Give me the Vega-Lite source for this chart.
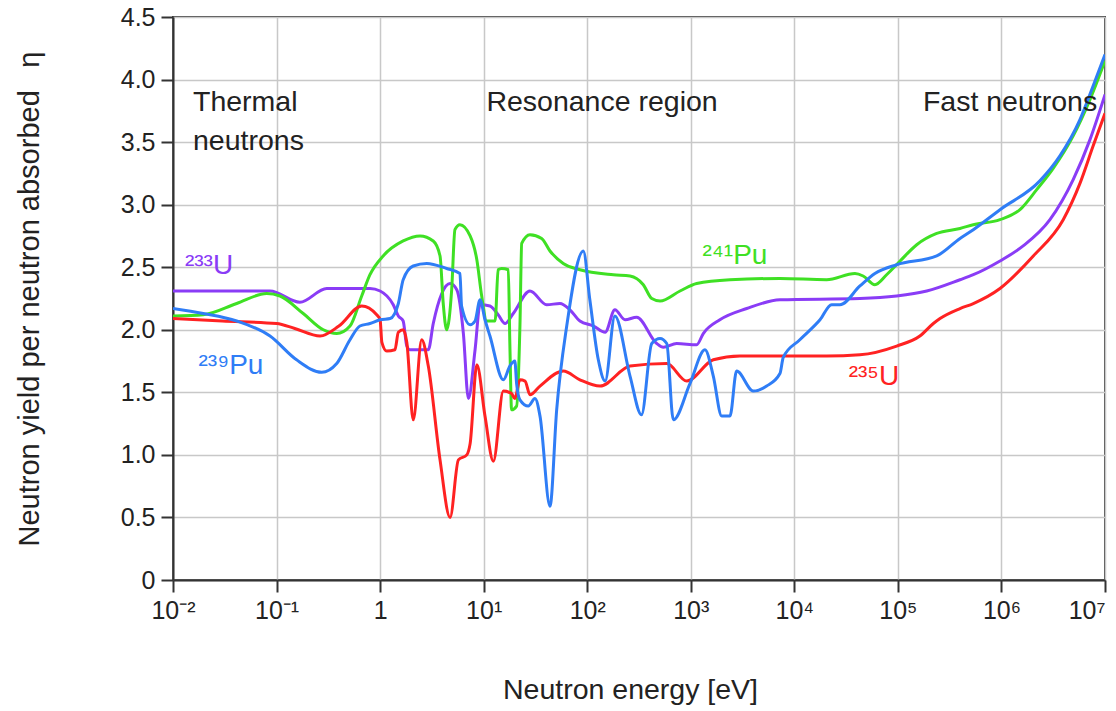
{
  "$schema": "https://vega.github.io/schema/vega-lite/v6.json",
  "width": 932,
  "height": 563,
  "autosize": {"type": "none"},
  "padding": {"left": 173, "top": 17, "right": 11, "bottom": 131},
  "background": "white",
  "config": {
    "font": "Liberation Sans",
    "view": {"stroke": "#444444", "strokeWidth": 2}
  },
  "datasets": {
    "curves": [
      {"isotope": "233U", "E": 0.01, "eta": 2.31},
      {"isotope": "233U", "E": 0.0865, "eta": 2.31},
      {"isotope": "233U", "E": 0.168, "eta": 2.22},
      {"isotope": "233U", "E": 0.305, "eta": 2.33},
      {"isotope": "233U", "E": 0.594, "eta": 2.33},
      {"isotope": "233U", "E": 0.798, "eta": 2.33},
      {"isotope": "233U", "E": 1.0, "eta": 2.31},
      {"isotope": "233U", "E": 1.34, "eta": 2.2},
      {"isotope": "233U", "E": 1.5, "eta": 2.11},
      {"isotope": "233U", "E": 1.67, "eta": 2.07},
      {"isotope": "233U", "E": 1.81, "eta": 1.87},
      {"isotope": "233U", "E": 1.94, "eta": 1.84},
      {"isotope": "233U", "E": 2.92, "eta": 1.84},
      {"isotope": "233U", "E": 3.26, "eta": 2.05},
      {"isotope": "233U", "E": 3.94, "eta": 2.29},
      {"isotope": "233U", "E": 4.74, "eta": 2.37},
      {"isotope": "233U", "E": 5.5, "eta": 2.32},
      {"isotope": "233U", "E": 6.37, "eta": 1.97},
      {"isotope": "233U", "E": 7.12, "eta": 1.45},
      {"isotope": "233U", "E": 8.26, "eta": 1.84},
      {"isotope": "233U", "E": 9.23, "eta": 2.2},
      {"isotope": "233U", "E": 11.5, "eta": 2.19},
      {"isotope": "233U", "E": 13.8, "eta": 2.12},
      {"isotope": "233U", "E": 16.1, "eta": 2.05},
      {"isotope": "233U", "E": 19.3, "eta": 2.13},
      {"isotope": "233U", "E": 28.0, "eta": 2.31},
      {"isotope": "233U", "E": 40.6, "eta": 2.2},
      {"isotope": "233U", "E": 54.5, "eta": 2.21},
      {"isotope": "233U", "E": 68.1, "eta": 2.16},
      {"isotope": "233U", "E": 85, "eta": 2.07},
      {"isotope": "233U", "E": 115, "eta": 2.03},
      {"isotope": "233U", "E": 149, "eta": 1.98},
      {"isotope": "233U", "E": 185, "eta": 2.16},
      {"isotope": "233U", "E": 232, "eta": 2.08},
      {"isotope": "233U", "E": 300, "eta": 2.1},
      {"isotope": "233U", "E": 469, "eta": 1.89},
      {"isotope": "233U", "E": 543, "eta": 1.86},
      {"isotope": "233U", "E": 731, "eta": 1.89},
      {"isotope": "233U", "E": 1140, "eta": 1.88},
      {"isotope": "233U", "E": 1320, "eta": 1.97},
      {"isotope": "233U", "E": 1910, "eta": 2.08},
      {"isotope": "233U", "E": 3470, "eta": 2.17},
      {"isotope": "233U", "E": 7260, "eta": 2.24},
      {"isotope": "233U", "E": 43000, "eta": 2.25},
      {"isotope": "233U", "E": 97300, "eta": 2.27},
      {"isotope": "233U", "E": 190000, "eta": 2.31},
      {"isotope": "233U", "E": 398000, "eta": 2.4},
      {"isotope": "233U", "E": 535000, "eta": 2.44},
      {"isotope": "233U", "E": 968000, "eta": 2.55},
      {"isotope": "233U", "E": 1620000, "eta": 2.67},
      {"isotope": "233U", "E": 2940000, "eta": 2.88},
      {"isotope": "233U", "E": 4930000, "eta": 3.2},
      {"isotope": "233U", "E": 7160000, "eta": 3.52},
      {"isotope": "233U", "E": 10000000, "eta": 3.88},

      {"isotope": "241Pu", "E": 0.01, "eta": 2.11},
      {"isotope": "241Pu", "E": 0.0196, "eta": 2.12},
      {"isotope": "241Pu", "E": 0.0412, "eta": 2.21},
      {"isotope": "241Pu", "E": 0.0804, "eta": 2.29},
      {"isotope": "241Pu", "E": 0.108, "eta": 2.27},
      {"isotope": "241Pu", "E": 0.181, "eta": 2.13},
      {"isotope": "241Pu", "E": 0.283, "eta": 2.0},
      {"isotope": "241Pu", "E": 0.381, "eta": 1.97},
      {"isotope": "241Pu", "E": 0.512, "eta": 2.03},
      {"isotope": "241Pu", "E": 0.664, "eta": 2.27},
      {"isotope": "241Pu", "E": 0.798, "eta": 2.44},
      {"isotope": "241Pu", "E": 1.07, "eta": 2.59},
      {"isotope": "241Pu", "E": 1.67, "eta": 2.71},
      {"isotope": "241Pu", "E": 2.43, "eta": 2.75},
      {"isotope": "241Pu", "E": 3.26, "eta": 2.71},
      {"isotope": "241Pu", "E": 3.79, "eta": 2.59},
      {"isotope": "241Pu", "E": 4.07, "eta": 2.21},
      {"isotope": "241Pu", "E": 4.39, "eta": 2.0},
      {"isotope": "241Pu", "E": 4.91, "eta": 2.32},
      {"isotope": "241Pu", "E": 5.28, "eta": 2.8},
      {"isotope": "241Pu", "E": 5.9, "eta": 2.84},
      {"isotope": "241Pu", "E": 7.4, "eta": 2.75},
      {"isotope": "241Pu", "E": 8.59, "eta": 2.56},
      {"isotope": "241Pu", "E": 9.57, "eta": 2.27},
      {"isotope": "241Pu", "E": 10.7, "eta": 2.07},
      {"isotope": "241Pu", "E": 12.9, "eta": 2.07},
      {"isotope": "241Pu", "E": 13.8, "eta": 2.48},
      {"isotope": "241Pu", "E": 14.9, "eta": 2.49},
      {"isotope": "241Pu", "E": 17.3, "eta": 2.48},
      {"isotope": "241Pu", "E": 17.9, "eta": 1.89},
      {"isotope": "241Pu", "E": 18.6, "eta": 1.36},
      {"isotope": "241Pu", "E": 20.8, "eta": 1.39},
      {"isotope": "241Pu", "E": 22.4, "eta": 2.03},
      {"isotope": "241Pu", "E": 23.3, "eta": 2.69},
      {"isotope": "241Pu", "E": 28.0, "eta": 2.76},
      {"isotope": "241Pu", "E": 36.3, "eta": 2.73},
      {"isotope": "241Pu", "E": 43.7, "eta": 2.63},
      {"isotope": "241Pu", "E": 58.7, "eta": 2.53},
      {"isotope": "241Pu", "E": 85, "eta": 2.48},
      {"isotope": "241Pu", "E": 179, "eta": 2.44},
      {"isotope": "241Pu", "E": 259, "eta": 2.43},
      {"isotope": "241Pu", "E": 348, "eta": 2.36},
      {"isotope": "241Pu", "E": 420, "eta": 2.25},
      {"isotope": "241Pu", "E": 505, "eta": 2.23},
      {"isotope": "241Pu", "E": 787, "eta": 2.31},
      {"isotope": "241Pu", "E": 1140, "eta": 2.37},
      {"isotope": "241Pu", "E": 2390, "eta": 2.4},
      {"isotope": "241Pu", "E": 7260, "eta": 2.41},
      {"isotope": "241Pu", "E": 20500, "eta": 2.4},
      {"isotope": "241Pu", "E": 38500, "eta": 2.45},
      {"isotope": "241Pu", "E": 46200, "eta": 2.43},
      {"isotope": "241Pu", "E": 60000, "eta": 2.36},
      {"isotope": "241Pu", "E": 77800, "eta": 2.44},
      {"isotope": "241Pu", "E": 105000, "eta": 2.55},
      {"isotope": "241Pu", "E": 152000, "eta": 2.68},
      {"isotope": "241Pu", "E": 237000, "eta": 2.77},
      {"isotope": "241Pu", "E": 398000, "eta": 2.81},
      {"isotope": "241Pu", "E": 535000, "eta": 2.84},
      {"isotope": "241Pu", "E": 968000, "eta": 2.88},
      {"isotope": "241Pu", "E": 1510000, "eta": 2.96},
      {"isotope": "241Pu", "E": 2190000, "eta": 3.12},
      {"isotope": "241Pu", "E": 3160000, "eta": 3.29},
      {"isotope": "241Pu", "E": 4930000, "eta": 3.55},
      {"isotope": "241Pu", "E": 7160000, "eta": 3.84},
      {"isotope": "241Pu", "E": 10000000, "eta": 4.15},

      {"isotope": "235U", "E": 0.01, "eta": 2.09},
      {"isotope": "235U", "E": 0.03, "eta": 2.07},
      {"isotope": "235U", "E": 0.1, "eta": 2.05},
      {"isotope": "235U", "E": 0.15, "eta": 2.01},
      {"isotope": "235U", "E": 0.263, "eta": 1.95},
      {"isotope": "235U", "E": 0.4, "eta": 2.03},
      {"isotope": "235U", "E": 0.664, "eta": 2.19},
      {"isotope": "235U", "E": 0.927, "eta": 2.12},
      {"isotope": "235U", "E": 1.0, "eta": 2.08},
      {"isotope": "235U", "E": 1.04, "eta": 1.9},
      {"isotope": "235U", "E": 1.16, "eta": 1.83},
      {"isotope": "235U", "E": 1.39, "eta": 1.84},
      {"isotope": "235U", "E": 1.5, "eta": 1.98},
      {"isotope": "235U", "E": 1.67, "eta": 2.0},
      {"isotope": "235U", "E": 1.81, "eta": 1.9},
      {"isotope": "235U", "E": 2.09, "eta": 1.28},
      {"isotope": "235U", "E": 2.52, "eta": 1.92},
      {"isotope": "235U", "E": 2.92, "eta": 1.71},
      {"isotope": "235U", "E": 3.79, "eta": 0.96},
      {"isotope": "235U", "E": 4.74, "eta": 0.5},
      {"isotope": "235U", "E": 5.7, "eta": 0.96},
      {"isotope": "235U", "E": 6.87, "eta": 1.0},
      {"isotope": "235U", "E": 7.4, "eta": 1.09},
      {"isotope": "235U", "E": 8.59, "eta": 1.72},
      {"isotope": "235U", "E": 10.3, "eta": 1.31},
      {"isotope": "235U", "E": 12.4, "eta": 0.95},
      {"isotope": "235U", "E": 15.5, "eta": 1.51},
      {"isotope": "235U", "E": 18.6, "eta": 1.49},
      {"isotope": "235U", "E": 20.0, "eta": 1.45},
      {"isotope": "235U", "E": 22.4, "eta": 1.6},
      {"isotope": "235U", "E": 25.1, "eta": 1.59},
      {"isotope": "235U", "E": 28.0, "eta": 1.48},
      {"isotope": "235U", "E": 35.0, "eta": 1.55},
      {"isotope": "235U", "E": 58.7, "eta": 1.67},
      {"isotope": "235U", "E": 85, "eta": 1.6},
      {"isotope": "235U", "E": 133, "eta": 1.55},
      {"isotope": "235U", "E": 259, "eta": 1.71},
      {"isotope": "235U", "E": 586, "eta": 1.73},
      {"isotope": "235U", "E": 915, "eta": 1.59},
      {"isotope": "235U", "E": 1650, "eta": 1.76},
      {"isotope": "235U", "E": 2985, "eta": 1.79},
      {"isotope": "235U", "E": 7260, "eta": 1.79},
      {"isotope": "235U", "E": 20500, "eta": 1.79},
      {"isotope": "235U", "E": 43000, "eta": 1.8},
      {"isotope": "235U", "E": 97300, "eta": 1.87},
      {"isotope": "235U", "E": 163000, "eta": 1.95},
      {"isotope": "235U", "E": 220000, "eta": 2.05},
      {"isotope": "235U", "E": 255000, "eta": 2.09},
      {"isotope": "235U", "E": 398000, "eta": 2.17},
      {"isotope": "235U", "E": 535000, "eta": 2.21},
      {"isotope": "235U", "E": 968000, "eta": 2.33},
      {"isotope": "235U", "E": 2030000, "eta": 2.59},
      {"isotope": "235U", "E": 3950000, "eta": 2.88},
      {"isotope": "235U", "E": 5730000, "eta": 3.17},
      {"isotope": "235U", "E": 7690000, "eta": 3.47},
      {"isotope": "235U", "E": 10000000, "eta": 3.73},

      {"isotope": "239Pu", "E": 0.01, "eta": 2.17},
      {"isotope": "239Pu", "E": 0.0196, "eta": 2.13},
      {"isotope": "239Pu", "E": 0.0412, "eta": 2.07},
      {"isotope": "239Pu", "E": 0.0865, "eta": 1.95},
      {"isotope": "239Pu", "E": 0.156, "eta": 1.76},
      {"isotope": "239Pu", "E": 0.273, "eta": 1.66},
      {"isotope": "239Pu", "E": 0.381, "eta": 1.73},
      {"isotope": "239Pu", "E": 0.512, "eta": 1.92},
      {"isotope": "239Pu", "E": 0.638, "eta": 2.03},
      {"isotope": "239Pu", "E": 0.798, "eta": 2.05},
      {"isotope": "239Pu", "E": 1.0, "eta": 2.08},
      {"isotope": "239Pu", "E": 1.25, "eta": 2.09},
      {"isotope": "239Pu", "E": 1.5, "eta": 2.21},
      {"isotope": "239Pu", "E": 1.67, "eta": 2.4},
      {"isotope": "239Pu", "E": 2.09, "eta": 2.51},
      {"isotope": "239Pu", "E": 2.82, "eta": 2.53},
      {"isotope": "239Pu", "E": 4.39, "eta": 2.49},
      {"isotope": "239Pu", "E": 5.9, "eta": 2.45},
      {"isotope": "239Pu", "E": 6.12, "eta": 2.19},
      {"isotope": "239Pu", "E": 7.4, "eta": 2.04},
      {"isotope": "239Pu", "E": 8.26, "eta": 2.07},
      {"isotope": "239Pu", "E": 9.23, "eta": 2.24},
      {"isotope": "239Pu", "E": 10.3, "eta": 2.08},
      {"isotope": "239Pu", "E": 11.5, "eta": 1.95},
      {"isotope": "239Pu", "E": 15.5, "eta": 1.6},
      {"isotope": "239Pu", "E": 17.9, "eta": 1.71},
      {"isotope": "239Pu", "E": 20.0, "eta": 1.75},
      {"isotope": "239Pu", "E": 20.8, "eta": 1.57},
      {"isotope": "239Pu", "E": 22.4, "eta": 1.44},
      {"isotope": "239Pu", "E": 27.0, "eta": 1.39},
      {"isotope": "239Pu", "E": 31.3, "eta": 1.45},
      {"isotope": "239Pu", "E": 35.0, "eta": 1.31},
      {"isotope": "239Pu", "E": 43.7, "eta": 0.59},
      {"isotope": "239Pu", "E": 50.7, "eta": 1.36},
      {"isotope": "239Pu", "E": 63.4, "eta": 2.03},
      {"isotope": "239Pu", "E": 91.6, "eta": 2.63},
      {"isotope": "239Pu", "E": 106, "eta": 2.24},
      {"isotope": "239Pu", "E": 128, "eta": 1.76},
      {"isotope": "239Pu", "E": 149, "eta": 1.59},
      {"isotope": "239Pu", "E": 185, "eta": 2.11},
      {"isotope": "239Pu", "E": 259, "eta": 1.63},
      {"isotope": "239Pu", "E": 334, "eta": 1.32},
      {"isotope": "239Pu", "E": 420, "eta": 1.89},
      {"isotope": "239Pu", "E": 505, "eta": 1.93},
      {"isotope": "239Pu", "E": 586, "eta": 1.89},
      {"isotope": "239Pu", "E": 678, "eta": 1.28},
      {"isotope": "239Pu", "E": 982, "eta": 1.57},
      {"isotope": "239Pu", "E": 1370, "eta": 1.84},
      {"isotope": "239Pu", "E": 1650, "eta": 1.63},
      {"isotope": "239Pu", "E": 1990, "eta": 1.31},
      {"isotope": "239Pu", "E": 2390, "eta": 1.31},
      {"isotope": "239Pu", "E": 2770, "eta": 1.67},
      {"isotope": "239Pu", "E": 4010, "eta": 1.51},
      {"isotope": "239Pu", "E": 5400, "eta": 1.55},
      {"isotope": "239Pu", "E": 7260, "eta": 1.65},
      {"isotope": "239Pu", "E": 7820, "eta": 1.78},
      {"isotope": "239Pu", "E": 11300, "eta": 1.92},
      {"isotope": "239Pu", "E": 17700, "eta": 2.08},
      {"isotope": "239Pu", "E": 22900, "eta": 2.2},
      {"isotope": "239Pu", "E": 27600, "eta": 2.2},
      {"isotope": "239Pu", "E": 43000, "eta": 2.35},
      {"isotope": "239Pu", "E": 60000, "eta": 2.45},
      {"isotope": "239Pu", "E": 97300, "eta": 2.52},
      {"isotope": "239Pu", "E": 237000, "eta": 2.59},
      {"isotope": "239Pu", "E": 398000, "eta": 2.73},
      {"isotope": "239Pu", "E": 535000, "eta": 2.8},
      {"isotope": "239Pu", "E": 968000, "eta": 2.96},
      {"isotope": "239Pu", "E": 2350000, "eta": 3.19},
      {"isotope": "239Pu", "E": 3670000, "eta": 3.39},
      {"isotope": "239Pu", "E": 5730000, "eta": 3.68},
      {"isotope": "239Pu", "E": 7690000, "eta": 3.95},
      {"isotope": "239Pu", "E": 10000000, "eta": 4.2}
    ],
    "isotopeLabels": [
      {"isotope": "233U", "label": "²³³U", "E": 0.0223, "eta": 2.51},
      {"isotope": "239Pu", "label": "²³⁹Pu", "E": 0.0363, "eta": 1.71},
      {"isotope": "241Pu", "label": "²⁴¹Pu", "E": 2670, "eta": 2.59},
      {"isotope": "235U", "label": "²³⁵U", "E": 58700, "eta": 1.62}
    ],
    "regionLeft": [
      {"label": "Thermal\nneutrons", "E": 0.0156, "eta": 3.82}
    ],
    "regionCenter": [
      {"label": "Resonance region", "E": 139, "eta": 3.82},
      {"label": "Fast neutrons", "E": 1210000, "eta": 3.82}
    ]
  },
  "layer": [
    {
      "data": {"name": "curves"},
      "mark": {"type": "line", "interpolate": "monotone", "strokeWidth": 3, "clip": true},
      "encoding": {
        "x": {
          "field": "E",
          "type": "quantitative",
          "scale": {"type": "log", "domain": [0.01, 10000000]},
          "axis": {
            "values": [0.01, 0.1, 1, 10, 100, 1000, 10000, 100000, 1000000, 10000000],
            "labelExpr": "['10⁻²','10⁻¹','1','10¹','10²','10³','10⁴','10⁵','10⁶','10⁷'][round(log(datum.value)/LN10)+2]",
            "labelAlign": {"condition": {"test": "datum.value >= 10000000", "value": "right"}, "value": "center"},
            "title": "Neutron energy [eV]",
            "titleFont": "Liberation Sans",
            "titleFontSize": 28.5,
            "titleFontWeight": "normal",
            "titleColor": "#222222",
            "titlePadding": 52,
            "titleX": 457,
            "titleAlign": "center",
            "labelFont": "Liberation Sans",
            "labelFontSize": 25,
            "labelColor": "#222222",
            "labelPadding": 6,
            "labelFlush": false,
            "labelOverlap": false,
            "tickSize": 12,
            "tickWidth": 2,
            "tickColor": "#333333",
            "domainColor": "#333333",
            "domainWidth": 2,
            "grid": true,
            "gridColor": "#c8c8c8",
            "gridWidth": 1.5
          }
        },
        "y": {
          "field": "eta",
          "type": "quantitative",
          "scale": {"domain": [0, 4.5], "nice": false},
          "axis": {
            "values": [0, 0.5, 1, 1.5, 2, 2.5, 3, 3.5, 4, 4.5],
            "labelExpr": "datum.value == 0 ? '0' : format(datum.value, '.1f')",
            "title": "Neutron yield per neutron absorbed \u2002η",
            "titleFont": "Liberation Sans",
            "titleFontSize": 29,
            "titleFontWeight": "normal",
            "titleColor": "#222222",
            "titlePadding": 76,
            "labelFont": "Liberation Sans",
            "labelFontSize": 25,
            "labelColor": "#222222",
            "labelPadding": 6,
            "labelFlush": false,
            "tickSize": 12,
            "tickWidth": 2,
            "tickColor": "#333333",
            "domainColor": "#333333",
            "domainWidth": 2,
            "grid": true,
            "gridColor": "#c8c8c8",
            "gridWidth": 1.5
          }
        },
        "color": {
          "field": "isotope",
          "type": "nominal",
          "scale": {"domain": ["233U", "235U", "239Pu", "241Pu"], "range": ["#8a3cf6", "#ff2222", "#2f7df6", "#3fe024"]},
          "legend": null
        }
      }
    },
    {
      "data": {"name": "isotopeLabels"},
      "mark": {"type": "text", "fontSize": 28, "font": "Liberation Sans", "align": "center", "baseline": "middle"},
      "encoding": {
        "x": {"field": "E", "type": "quantitative"},
        "y": {"field": "eta", "type": "quantitative"},
        "text": {"field": "label"},
        "color": {"field": "isotope", "type": "nominal", "legend": null}
      }
    },
    {
      "data": {"name": "regionLeft"},
      "mark": {"type": "text", "fontSize": 28.5, "font": "Liberation Sans", "align": "left", "baseline": "middle", "lineBreak": "\n", "lineHeight": 39, "color": "#222222"},
      "encoding": {
        "x": {"field": "E", "type": "quantitative"},
        "y": {"field": "eta", "type": "quantitative"},
        "text": {"field": "label"}
      }
    },
    {
      "data": {"name": "regionCenter"},
      "mark": {"type": "text", "fontSize": 28.5, "font": "Liberation Sans", "align": "center", "baseline": "middle", "color": "#222222"},
      "encoding": {
        "x": {"field": "E", "type": "quantitative"},
        "y": {"field": "eta", "type": "quantitative"},
        "text": {"field": "label"}
      }
    }
  ]
}
